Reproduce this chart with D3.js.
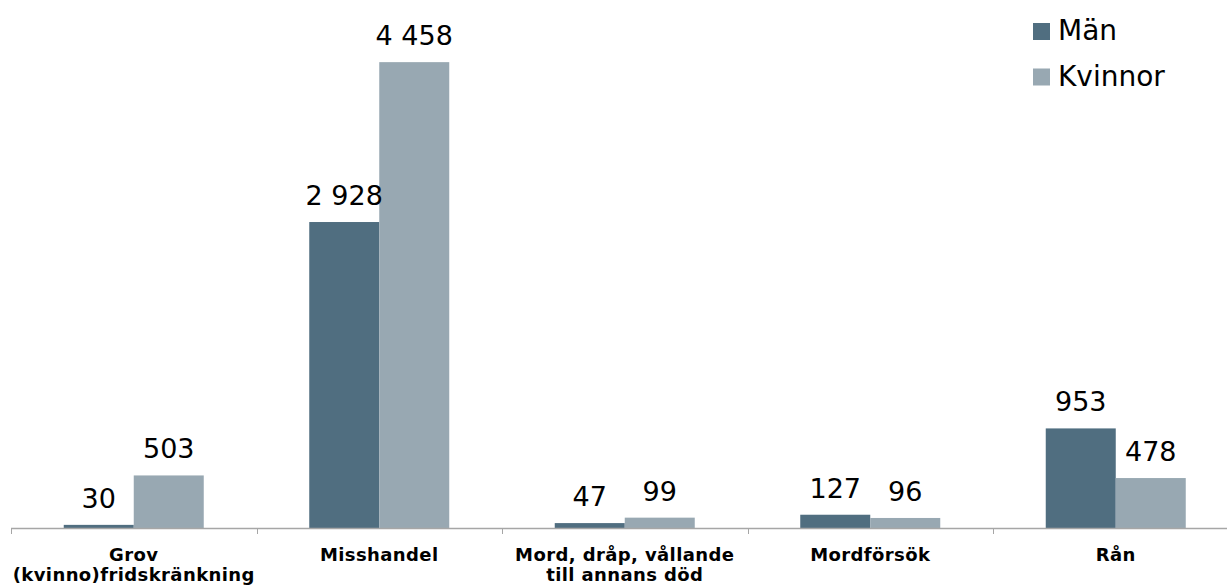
<!DOCTYPE html>
<html>
<head>
<meta charset="utf-8">
<script src="https://cdn.jsdelivr.net/npm/d3@7"></script>
<style>
  body { margin: 0; background: #fff; }
  svg { display: block; font-family: "DejaVu Sans", Verdana, sans-serif; }
</style>
</head>
<body>
<div id="chart"></div>
<script>
var categories = [
  ["Grov", "(kvinno)fridskränkning"],
  ["Misshandel"],
  ["Mord, dråp, vållande", "till annans död"],
  ["Mordförsök"],
  ["Rån"]
];
var seriesNames = ["Män", "Kvinnor"];
var manValues = [30, 2928, 47, 127, 953];
var kvinnorValues = [503, 4458, 99, 96, 478];
var colors = ["#506e80", "#98a8b2"];

var width = 1227, height = 586;
var baseY = 528;

var svg = d3.select("#chart").append("svg")
  .attr("width", width)
  .attr("height", height);

var x0 = d3.scaleBand()
  .domain(d3.range(categories.length))
  .range([11, 11 + 245.5 * categories.length])
  .paddingInner(0)
  .paddingOuter(0);

var x1 = d3.scaleBand()
  .domain(seriesNames)
  .range([x0.bandwidth() / 2 - 70, x0.bandwidth() / 2 + 70]);

var y = d3.scaleLinear()
  .domain([0, 5000])
  .range([baseY, baseY - 522.5]);

var data = categories.map(function(c, i) {
  return [manValues[i], kvinnorValues[i]];
});

var groups = svg.selectAll("g.cat")
  .data(data)
  .enter().append("g")
  .attr("class", "cat")
  .attr("transform", function(d, i) { return "translate(" + x0(i) + ",0)"; });

groups.selectAll("rect")
  .data(function(d) { return d.map(function(v, j) { return { v: v, s: seriesNames[j], j: j }; }); })
  .enter().append("rect")
  .attr("x", function(d) { return x1(d.s); })
  .attr("width", x1.bandwidth())
  .attr("y", function(d) { return y(d.v); })
  .attr("height", function(d) { return baseY - y(d.v); })
  .attr("fill", function(d) { return colors[d.j]; });

var fmt = function(v) { return d3.format(",")(v).replace(/,/g, " "); };

groups.selectAll("text.val")
  .data(function(d) { return d.map(function(v, j) { return { v: v, s: seriesNames[j] }; }); })
  .enter().append("text")
  .attr("class", "val")
  .attr("x", function(d) { return x1(d.s) + x1.bandwidth() / 2; })
  .attr("y", function(d) { return y(d.v) - 17; })
  .attr("text-anchor", "middle")
  .style("font-size", "27px")
  .style("fill", "#000")
  .text(function(d) { return fmt(d.v); });

// axis
var axis = svg.append("g").attr("transform", "translate(0," + baseY + ")");
axis.append("line")
  .attr("x1", x0.range()[0]).attr("x2", x0.range()[1])
  .attr("y1", 0.5).attr("y2", 0.5)
  .attr("stroke", "#a6a6a6").attr("stroke-width", 1.5);
axis.selectAll("line.tick")
  .data(d3.range(categories.length + 1))
  .enter().append("line")
  .attr("class", "tick")
  .attr("x1", function(i) { return Math.round(x0.range()[0] + i * x0.step()) + 0.5; })
  .attr("x2", function(i) { return Math.round(x0.range()[0] + i * x0.step()) + 0.5; })
  .attr("y1", 0).attr("y2", 6)
  .attr("stroke", "#a6a6a6").attr("stroke-width", 1);

var labels = svg.selectAll("text.cat")
  .data(categories)
  .enter().append("text")
  .attr("class", "cat")
  .attr("text-anchor", "middle")
  .style("font-size", "18px")
  .style("font-weight", "bold")
  .style("letter-spacing", "0.4px")
  .attr("transform", function(d, i) { return "translate(" + (x0(i) + x0.bandwidth() / 2) + ",561)"; });
labels.selectAll("tspan")
  .data(function(d) { return d; })
  .enter().append("tspan")
  .attr("x", 0)
  .attr("dy", function(d, k) { return k === 0 ? 0 : 20; })
  .text(function(d) { return d; });

// legend
var legend = svg.selectAll("g.leg")
  .data(seriesNames)
  .enter().append("g")
  .attr("class", "leg")
  .attr("transform", function(d, i) { return "translate(1033," + (23 + i * 45.5) + ")"; });
legend.append("rect")
  .attr("width", 17).attr("height", 17)
  .attr("fill", function(d, i) { return colors[i]; });
legend.append("text")
  .attr("x", 25).attr("y", 17)
  .style("font-size", "28px")
  .text(function(d) { return d; });
</script>
</body>
</html>
